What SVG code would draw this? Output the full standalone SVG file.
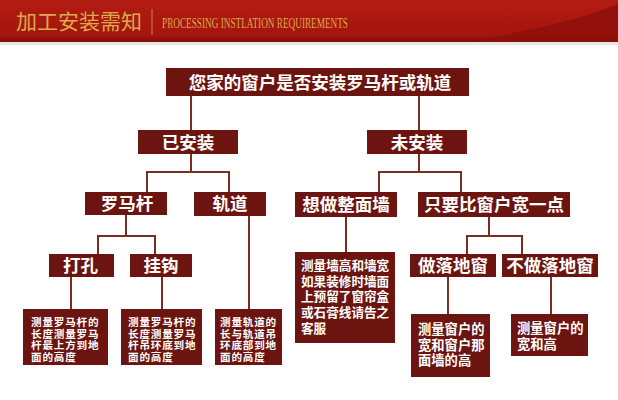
<svg xmlns="http://www.w3.org/2000/svg" width="618" height="400" viewBox="0 0 618 400">
<defs>
<linearGradient id="hdr" x1="0" y1="0" x2="0" y2="1">
<stop offset="0" stop-color="#b31c12"/>
<stop offset="0.85" stop-color="#a3150e"/>
<stop offset="1" stop-color="#7e0c08"/>
</linearGradient>
<style>
.box{fill:#6c1510;}
.big{font-family:"Noto Sans CJK SC","Noto Sans",sans-serif;font-weight:bold;font-size:17.5px;fill:#ffffff;text-anchor:middle;}
.small{font-family:"Noto Sans CJK SC","Noto Sans",sans-serif;font-weight:bold;fill:#ffffff;}
.tiny{font-size:10.6px;letter-spacing:0.8px;}
.conn line{stroke:#7a2c26;stroke-width:2;}
</style>
</defs>
<rect x="0" y="0" width="618" height="400" fill="#ffffff"/>
<g id="header">
<rect x="0" y="0" width="618" height="42" fill="url(#hdr)"/>
<path d="M470 42 C530 30 580 20 618 4 L618 42 Z" fill="#8c0f0a" opacity="0.8"/>
<rect x="0" y="42" width="618" height="3" fill="#ebe6e6"/>
<text x="16" y="29" font-family="Noto Sans CJK SC,sans-serif" font-size="21" fill="#dcaa4c" textLength="126">加工安装需知</text>
<line x1="152" y1="9" x2="152" y2="35" stroke="#c98a45" stroke-width="1"/>
<text x="162" y="28" font-family="Liberation Serif,serif" font-size="14.5" fill="#dcaa4c" textLength="186" lengthAdjust="spacingAndGlyphs">PROCESSING  INSTLATION REQUIREMENTS</text>
</g>
<g class="conn" id="connectors">
<line x1="191" y1="96" x2="191" y2="130"/>
<line x1="419" y1="96" x2="419" y2="130"/>
<line x1="191" y1="154" x2="191" y2="172"/>
<line x1="146" y1="172" x2="230" y2="172"/>
<line x1="147" y1="171" x2="147" y2="192"/>
<line x1="229" y1="171" x2="229" y2="192"/>
<line x1="126" y1="215" x2="126" y2="236"/>
<line x1="97" y1="236" x2="156" y2="236"/>
<line x1="98" y1="235" x2="98" y2="254"/>
<line x1="155" y1="235" x2="155" y2="254"/>
<line x1="71" y1="277" x2="71" y2="309"/>
<line x1="162" y1="277" x2="162" y2="309"/>
<line x1="249" y1="216" x2="249" y2="309"/>
<line x1="419" y1="154" x2="419" y2="172"/>
<line x1="378" y1="172" x2="462" y2="172"/>
<line x1="379" y1="171" x2="379" y2="192"/>
<line x1="461" y1="171" x2="461" y2="192"/>
<line x1="346" y1="217" x2="346" y2="252"/>
<line x1="489" y1="217" x2="489" y2="236"/>
<line x1="466" y1="236" x2="523" y2="236"/>
<line x1="467" y1="235" x2="467" y2="254"/>
<line x1="522" y1="235" x2="522" y2="254"/>
<line x1="448" y1="277" x2="448" y2="314"/>
<line x1="551" y1="277" x2="551" y2="314"/>
</g>
<g id="n-root"><rect class="box" x="166" y="68" width="303" height="28"/><text class="big" x="320" y="88.5" font-size="18.5">您家的窗户是否安装罗马杆或轨道</text></g>
<g id="n-installed"><rect class="box" x="138" y="130" width="100" height="24"/><text class="big" x="188" y="148.5">已安装</text></g>
<g id="n-notinstalled"><rect class="box" x="367" y="130" width="100" height="24"/><text class="big" x="417" y="148.5">未安装</text></g>
<g id="n-rod"><rect class="box" x="85" y="192" width="82" height="23"/><text class="big" x="127" y="209.5">罗马杆</text></g>
<g id="n-track"><rect class="box" x="194" y="192" width="72" height="24"/><text class="big" x="230" y="210">轨道</text></g>
<g id="n-wall"><rect class="box" x="295" y="192" width="102" height="25"/><text class="big" x="346" y="210.5">想做整面墙</text></g>
<g id="n-wider"><rect class="box" x="418" y="192" width="152" height="25"/><text class="big" x="494" y="210.5">只要比窗户宽一点</text></g>
<g id="n-drill"><rect class="box" x="49" y="254" width="65" height="23"/><text class="big" x="80.5" y="271.5">打孔</text></g>
<g id="n-hook"><rect class="box" x="130" y="254" width="62" height="23"/><text class="big" x="161" y="271.5">挂钩</text></g>
<g id="n-floor"><rect class="box" x="410" y="254" width="86" height="23"/><text class="big" x="453" y="271.5">做落地窗</text></g>
<g id="n-nofloor"><rect class="box" x="502" y="254" width="96" height="23"/><text class="big" x="550" y="271.5">不做落地窗</text></g>
<g id="d-drill"><rect class="box" x="23" y="309" width="85" height="56"/>
<text class="small tiny"><tspan x="31" y="326">测量罗马杆的</tspan><tspan x="31" y="337.5">长度测量罗马</tspan><tspan x="31" y="349">杆最上方到地</tspan><tspan x="31" y="360.5">面的高度</tspan></text></g>
<g id="d-hook"><rect class="box" x="121" y="309" width="81" height="56"/>
<text class="small tiny"><tspan x="128" y="326">测量罗马杆的</tspan><tspan x="128" y="337.5">长度测量罗马</tspan><tspan x="128" y="349">杆吊环底到地</tspan><tspan x="128" y="360.5">面的高度</tspan></text></g>
<g id="d-track"><rect class="box" x="215" y="309" width="67" height="56"/>
<text class="small tiny"><tspan x="220" y="326">测量轨道的</tspan><tspan x="220" y="337.5">长与轨道吊</tspan><tspan x="220" y="349">环底部到地</tspan><tspan x="220" y="360.5">面的高度</tspan></text></g>
<g id="d-wall"><rect class="box" x="295" y="252" width="100" height="91"/>
<text class="small" font-size="12.6"><tspan x="301" y="269.5">测量墙高和墙宽</tspan><tspan x="301" y="285.5">如果装修时墙面</tspan><tspan x="301" y="301">上预留了窗帘盒</tspan><tspan x="301" y="316.5">或石膏线请告之</tspan><tspan x="301" y="332.5">客服</tspan></text></g>
<g id="d-floor"><rect class="box" x="411" y="314" width="79" height="63"/>
<text class="small" font-size="13.3"><tspan x="418" y="333.5">测量窗户的</tspan><tspan x="418" y="349.5">宽和窗户那</tspan><tspan x="418" y="364.5">面墙的高</tspan></text></g>
<g id="d-nofloor"><rect class="box" x="511" y="314" width="77" height="42"/>
<text class="small" font-size="13.3"><tspan x="517" y="333">测量窗户的</tspan><tspan x="517" y="349">宽和高</tspan></text></g>
</svg>
